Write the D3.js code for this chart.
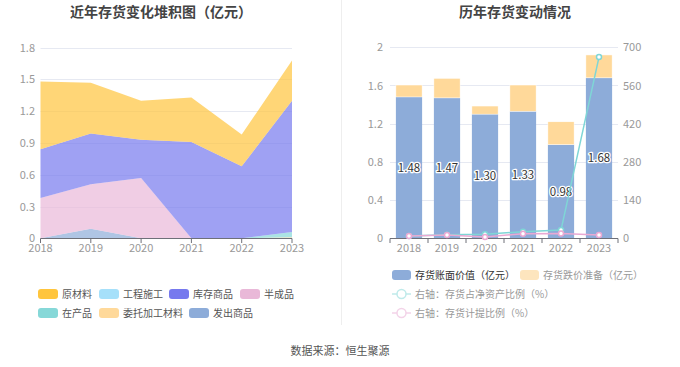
<!DOCTYPE html>
<html><head><meta charset="utf-8">
<script src="https://cdn.jsdelivr.net/npm/d3@7/dist/d3.min.js"></script>
<style>body{margin:0;background:#fff;}svg{font-family:"Microsoft YaHei","Noto Sans CJK SC",sans-serif;}</style>
</head><body><svg id="c" width="680" height="367"></svg>
<script>
const years = ["2018","2019","2020","2021","2022","2023"];
// left stacked area (亿元)
const seriesNames = ["原材料","工程施工","库存商品","半成品","在产品","委托加工材料","发出商品"];
const rawMaterial   = [0.64,0.48,0.37,0.42,0.30,0.38];
const construction  = [0,0,0,0,0,0];
const goods         = [0.46,0.48,0.36,0.91,0.68,1.24];
const semiFinished  = [0.38,0.42,0.57,0,0,0];
const wip           = [0,0,0,0,0,0.05];
const outsourced    = [0,0,0,0,0,0.01];
const shipped       = [0,0.09,0,0,0,0];
const leftTicks = [0,0.3,0.6,0.9,1.2,1.5,1.8];
// right chart
const bookValue  = [1.48,1.47,1.30,1.33,0.98,1.68];
const impairment = [0.125,0.205,0.085,0.275,0.24,0.24];
const invToNetAssets = [8,13,15,24,30,664];
const provisionRatio = [8,12,5,17,18,12];
const rightTicksL = [0,0.4,0.8,1.2,1.6,2];
const rightTicksR = [0,140,280,420,560,700];

const svg = d3.select("#c");
const fillC = {"原材料":"#ffc53d","工程施工":"#a6e0fa","库存商品":"#7679ee","半成品":"#e9b8d8","在产品":"#86d8d8","委托加工材料":"#ffd99a","发出商品":"#8dacd9"};

// separator
svg.append("line").attr("x1",341.5).attr("x2",341.5).attr("y1",0).attr("y2",325).attr("stroke","#eeeeee");

// titles
svg.append("text").attr("x",161).attr("y",17).attr("text-anchor","middle").attr("font-size",14).attr("font-weight","bold").attr("fill","#444").text("近年存货变化堆积图（亿元）");
svg.append("text").attr("x",515).attr("y",17).attr("text-anchor","middle").attr("font-size",14).attr("font-weight","bold").attr("fill","#444").text("历年存货变动情况");

// ===== left chart =====
const xL = d3.scalePoint().domain(years).range([40.5,292]);
const yL = d3.scaleLinear().domain([0,1.8]).range([238.3,47.7]);
const gL = svg.append("g");
gL.selectAll("line.g").data(leftTicks.slice(1)).join("line").attr("x1",40.5).attr("x2",292).attr("y1",d=>Math.round(yL(d))+0.5).attr("y2",d=>Math.round(yL(d))+0.5).attr("stroke","#e6e9f2");
const dataRows = years.map((y,i)=>({year:y,"原材料":rawMaterial[i],"工程施工":construction[i],"库存商品":goods[i],"半成品":semiFinished[i],"在产品":wip[i],"委托加工材料":outsourced[i],"发出商品":shipped[i]}));
const stackOrder = ["委托加工材料","在产品","发出商品","工程施工","半成品","库存商品","原材料"];
const stacked = d3.stack().keys(stackOrder)(dataRows);
const area = d3.area().x((d,i)=>xL(years[i])).y0(d=>yL(d[0])).y1(d=>yL(d[1]));
gL.selectAll("path.a").data(stacked).join("path").attr("d",area).attr("fill",d=>fillC[d.key]).attr("fill-opacity",0.7).attr("stroke","none");
gL.append("line").attr("x1",40.5).attr("x2",292).attr("y1",238.5).attr("y2",238.5).attr("stroke","#6e7079");
gL.selectAll("line.t").data(years).join("line").attr("x1",d=>xL(d)).attr("x2",d=>xL(d)).attr("y1",238.5).attr("y2",243).attr("stroke","#6e7079");
gL.selectAll("text.yl").data(leftTicks).join("text").attr("x",35).attr("y",d=>yL(d)+4).attr("text-anchor","end").attr("font-size",11).attr("fill","#999").text(d=>d===0?"0":d.toFixed(1));
gL.selectAll("text.xl").data(years).join("text").attr("x",d=>xL(d)).attr("y",252).attr("text-anchor","middle").attr("font-size",11).attr("fill","#999").text(d=>d);

// left legend
const legL = [["原材料",38,294],["工程施工",99,294],["库存商品",169,294],["半成品",240,294],["在产品",38,313],["委托加工材料",99,313],["发出商品",189,313]];
legL.forEach(([n,x,y])=>{
  svg.append("rect").attr("x",x).attr("y",y-5).attr("width",20).attr("height",10).attr("rx",3).attr("fill",fillC[n]);
  svg.append("text").attr("x",x+24).attr("y",y+4).attr("font-size",10).attr("fill","#555").text(n);
});

// ===== right chart =====
const xR = d3.scaleBand().domain(years).range([390,618]).paddingInner(0.31).paddingOuter(0.155);
const yR = d3.scaleLinear().domain([0,2]).range([238.3,47.3]);
const yR2 = d3.scaleLinear().domain([0,700]).range([238.3,47.3]);
const gR = svg.append("g");
gR.selectAll("line.g").data(rightTicksL.slice(1)).join("line").attr("x1",390).attr("x2",618).attr("y1",d=>Math.round(yR(d))+0.5).attr("y2",d=>Math.round(yR(d))+0.5).attr("stroke","#e6e9f2");
gR.selectAll("rect.b").data(years).join("rect").attr("x",d=>xR(d)).attr("width",xR.bandwidth()).attr("y",(d,i)=>yR(bookValue[i])).attr("height",(d,i)=>yR(0)-yR(bookValue[i])).attr("fill","#8dacd9");
gR.selectAll("rect.i").data(years).join("rect").attr("x",d=>xR(d)).attr("width",xR.bandwidth()).attr("y",(d,i)=>yR(bookValue[i]+impairment[i])).attr("height",(d,i)=>yR(bookValue[i])-yR(bookValue[i]+impairment[i])).attr("fill","#ffd99a").attr("stroke","#fff").attr("stroke-width",0.5);
gR.append("line").attr("x1",390).attr("x2",618).attr("y1",238.5).attr("y2",238.5).attr("stroke","#6e7079");
gR.selectAll("line.t").data(d3.range(7)).join("line").attr("x1",d=>390+d*38).attr("x2",d=>390+d*38).attr("y1",238.5).attr("y2",243).attr("stroke","#6e7079");
gR.selectAll("text.yl").data(rightTicksL).join("text").attr("x",383).attr("y",d=>yR(d)+4).attr("text-anchor","end").attr("font-size",11).attr("fill","#999").text(d=>d);
gR.selectAll("text.yr").data(rightTicksR).join("text").attr("x",623).attr("y",d=>yR2(d)+4).attr("text-anchor","start").attr("font-size",11).attr("fill","#999").text(d=>d);
gR.selectAll("text.xl").data(years).join("text").attr("x",d=>xR(d)+xR.bandwidth()/2).attr("y",252).attr("text-anchor","middle").attr("font-size",11).attr("fill","#999").text(d=>d);
// bar labels
gR.selectAll("text.bl").data(years).join("text").attr("x",d=>xR(d)+xR.bandwidth()/2).attr("y",(d,i)=>(yR(0)+yR(bookValue[i]))/2+4).attr("text-anchor","middle").attr("font-size",11.5).attr("fill","#333").attr("stroke","#fff").attr("stroke-width",2.5).attr("paint-order","stroke").attr("stroke-linejoin","round").text((d,i)=>bookValue[i].toFixed(2));
// lines
const cx = d=>xR(d)+xR.bandwidth()/2;
const lineGen = arr=>d3.line().x((d,i)=>cx(years[i])).y(d=>yR2(d))(arr);
[[invToNetAssets,"#7fd6d6"],[provisionRatio,"#e9a9d3"]].forEach(([arr,c])=>{
  gR.append("path").attr("d",lineGen(arr)).attr("fill","none").attr("stroke",c).attr("stroke-width",1.5);
  gR.selectAll(null).data(arr).join("circle").attr("cx",(d,i)=>cx(years[i])).attr("cy",d=>yR2(d)).attr("r",2.5).attr("fill","#fff").attr("stroke",c).attr("stroke-width",1.5);
});

// right legend
svg.append("rect").attr("x",392).attr("y",270).attr("width",19).attr("height",10).attr("rx",3).attr("fill","#8dacd9");
svg.append("text").attr("x",415).attr("y",279).attr("font-size",10).attr("fill","#333").text("存货账面价值（亿元）");
svg.append("rect").attr("x",520).attr("y",270).attr("width",19).attr("height",10).attr("rx",3).attr("fill","#fde5be");
svg.append("text").attr("x",543).attr("y",279).attr("font-size",10).attr("fill","#999").text("存货跌价准备（亿元）");
[["右轴：存货占净资产比例（%）","#bfeaea",294],["右轴：存货计提比例（%）","#f3d3e8",313]].forEach(([t,c,y])=>{
  svg.append("line").attr("x1",392).attr("x2",411).attr("y1",y).attr("y2",y).attr("stroke",c).attr("stroke-width",1.5);
  svg.append("circle").attr("cx",401.5).attr("cy",y).attr("r",4.5).attr("fill","#fff").attr("stroke",c).attr("stroke-width",1.5);
  svg.append("text").attr("x",415).attr("y",y+4).attr("font-size",10).attr("fill","#999").text(t);
});

// source
svg.append("text").attr("x",340).attr("y",355).attr("text-anchor","middle").attr("font-size",11).attr("fill","#555").text("数据来源：恒生聚源");
</script></body></html>
